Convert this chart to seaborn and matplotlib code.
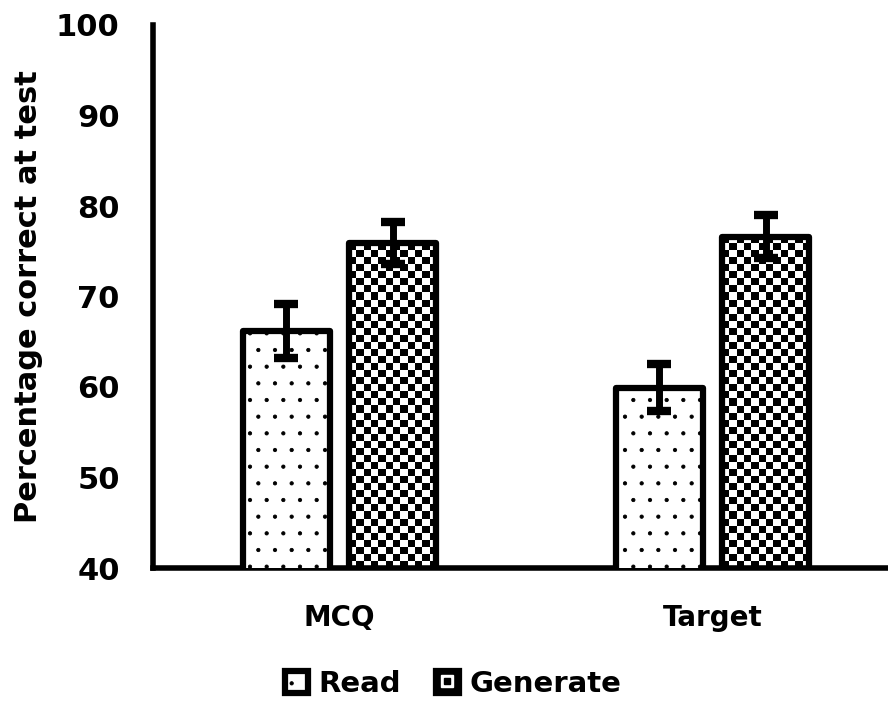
import numpy as np
import pandas as pd
import matplotlib
matplotlib.use("Agg")
import matplotlib.pyplot as plt
from matplotlib.patches import Patch
from matplotlib.lines import Line2D
from matplotlib.legend_handler import HandlerTuple
import seaborn as sns

# Percentage correct at test, by test type and study condition
tests = ["MCQ", "Target"]
conditions = ["Read", "Generate"]
read_scores = [66.2, 59.9]
generate_scores = [75.9, 76.6]
read_err = [3.0, 2.6]
generate_err = [2.3, 2.4]
y_ticks = [40, 50, 60, 70, 80, 90, 100]

df = pd.DataFrame({
    "Test": tests * 2,
    "Condition": [conditions[0]] * 2 + [conditions[1]] * 2,
    "Score": read_scores + generate_scores,
})
errors = {"Read": read_err, "Generate": generate_err}

sns.set_style("white")
plt.rcParams["font.family"] = ["DejaVu Sans"]
plt.rcParams["font.weight"] = "bold"
plt.rcParams["text.color"] = "black"
plt.rcParams["axes.labelcolor"] = "black"
plt.rcParams["xtick.color"] = "black"
plt.rcParams["ytick.color"] = "black"
plt.rcParams["hatch.linewidth"] = 0.6

fig = plt.figure(figsize=(8.88, 7.03), dpi=100)
ax = fig.add_axes([153 / 888, 1 - 568 / 703, 746 / 888, (568 - 25) / 703])

sns.barplot(data=df, x="Test", y="Score", hue="Condition", order=tests,
            hue_order=conditions, palette=["white", "white"], errorbar=None,
            width=0.57, gap=0.18, legend=False, ax=ax)

ymin, ymax = 40, 100
ax.set_xlim(-0.5, 1.5)
ax.set_ylim(ymin, ymax)
ax.set_yticks(y_ticks)

# Checkerboard texture for the Generate bars
def checker(nx, ny):
    return (np.add.outer(np.arange(ny), np.arange(nx)) % 2).astype(float)

fig.canvas.draw()
for cond, cont in zip(conditions, ax.containers):
    for bar in cont:
        bar.set_edgecolor("black")
        bar.set_linewidth(4.5)
        bar.set_joinstyle("round")
        bar.set_facecolor("white")
        bar.set_zorder(3)
        if cond == "Read":
            bar.set_hatch(".")
        else:
            x0, w = bar.get_x(), bar.get_width()
            y0 = max(bar.get_y(), ymin)
            y1 = bar.get_y() + bar.get_height()
            p0 = ax.transData.transform((x0, y0))
            p1 = ax.transData.transform((x0 + w, y1))
            nx = max(1, int(round((p1[0] - p0[0]) / 7.0)))
            ny = max(1, int(round((p1[1] - p0[1]) / 7.0)))
            ax.imshow(checker(nx, ny), cmap="gray", vmin=0, vmax=1,
                      extent=(x0, x0 + w, y0, y1), origin="upper",
                      interpolation="nearest", aspect="auto", zorder=2.5)
            bar.set_facecolor("none")

    xs = [b.get_x() + b.get_width() / 2 for b in cont]
    ys = [b.get_y() + b.get_height() for b in cont]
    ax.errorbar(xs, ys, yerr=errors[cond], fmt="none", ecolor="black",
                elinewidth=5, capsize=8.5, capthick=6, zorder=5)

ax.set_xlim(-0.5, 1.5)
ax.set_ylim(ymin, ymax)
ax.set_aspect("auto")

for side in ["top", "right"]:
    ax.spines[side].set_visible(False)
for side in ["left", "bottom"]:
    ax.spines[side].set_linewidth(4)
    ax.spines[side].set_color("black")

ax.tick_params(axis="y", length=0, pad=24, labelsize=22)
ax.tick_params(axis="x", length=0, pad=26, labelsize=20)
for lab in ax.get_xticklabels() + ax.get_yticklabels():
    lab.set_fontweight("bold")
ax.set_xlabel("")
ax.set_ylabel("Percentage correct at test", fontsize=22, fontweight="bold",
              labelpad=9)

# Legend keys: dotted box for Read, dark box with a light inner square for Generate
read_key = Patch(facecolor="white", edgecolor="black", linewidth=4.5, hatch=".")
gen_key = (
    Patch(facecolor="black", edgecolor="black", linewidth=4.5),
    Line2D([], [], marker="s", markersize=8, color="white", linestyle="none"),
    Line2D([], [], marker="s", markersize=4.5, color="black", linestyle="none"),
)
fig.legend([read_key, gen_key], conditions, loc="center",
           bbox_to_anchor=(0.51, 0.027), ncol=2, frameon=False,
           handlelength=0.8, handleheight=0.8, handletextpad=0.35,
           columnspacing=1.2, prop={"size": 21, "weight": "bold"},
           handler_map={tuple: HandlerTuple(ndivide=1, pad=0)})

fig.savefig("out.png", dpi=100)
